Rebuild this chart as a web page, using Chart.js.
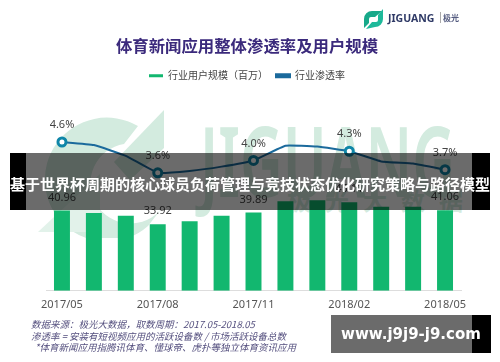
<!DOCTYPE html>
<html>
<head>
<meta charset="utf-8">
<script src="https://cdn.jsdelivr.net/npm/chart.js@4"></script>
<style>
  html, body { margin: 0; padding: 0; background: #fff; }
  #page { position: relative; width: 500px; height: 362px; overflow: hidden; font-family: "Noto Sans", "Noto Sans CJK SC", sans-serif; }
  #page div, #page svg { position: absolute; }
  canvas { position: absolute; left: 0; top: 0; }
  .wm { color: #d3ebdf; font-weight: 700; white-space: nowrap; }
  .note { left: 31px; color: #55507f; font-size: 9.5px; font-style: italic; white-space: nowrap; line-height: 12px; font-family: "Noto Sans CJK SC", sans-serif; }
  .band { background: rgba(0, 0, 0, 0.58); }
  .black { background: #000; }
  .over { color: #fff; font-weight: 700; white-space: nowrap; }
</style>
</head>
<body>
<div id="page">
  <!-- watermark behind the chart -->
  <svg style="left:38px;top:108px" width="140" height="130" viewBox="0 0 140 130">
    <path d="M 100 18 A 62 62 0 1 0 110 118 L 124 100 A 40 40 0 1 1 86 36 Z" fill="#d3ebdf"/>
    <path d="M 126 2 L 126 40 L 92 72 L 76 54 Z" fill="#d3ebdf"/>
    <path d="M 0 124 L 62 66 L 62 124 Z" fill="#e2f2ea"/>
  </svg>
  <svg style="left:190px;top:110px" width="290" height="110" viewBox="0 0 290 110">
    <text x="10" y="87" font-family="Noto Sans" font-weight="600" font-size="98" fill="#d3ebdf" textLength="255" lengthAdjust="spacingAndGlyphs">JIGUANG</text>
  </svg>
  <div class="wm" style="left:287px;top:183px;font-size:24px;line-height:34px;letter-spacing:14px;font-family:'Noto Sans CJK SC'">极光大数据</div>

  <canvas id="sportsChart" width="500" height="362"></canvas>

  <!-- logo top right -->
  <svg style="left:361px;top:8px" width="24" height="22" viewBox="0 0 24 22">
    <path d="M 3 20 L 3 11 A 8 8 0 0 1 11 3 L 21 3 L 14 9 L 10 9 A 2 2 0 0 0 8 11 L 8 15 Z" fill="#17a98a"/>
    <path d="M 22 1 L 22 11 A 8 8 0 0 1 14 19 L 5 21 L 11 14 L 15 14 A 2 2 0 0 0 17 12 L 17 7 Z" fill="#1db99a"/>
  </svg>
  <div style="left:388px;top:10px;font-size:10.5px;line-height:16px;font-weight:700;color:#2f3a66;white-space:nowrap">JIGUANG</div>
  <div style="left:440px;top:12px;width:1px;height:11px;background:#aaa"></div>
  <div style="left:443px;top:11px;font-size:8px;line-height:14px;font-weight:700;color:#555c80;white-space:nowrap;font-family:'Noto Sans CJK SC'">极光</div>

  <div class="note" style="top:318px">数据来源：极光大数据，取数周期：2017.05-2018.05</div>
  <div class="note" style="top:330px">渗透率 = 安装有短视频应用的活跃设备数 / 市场活跃设备总数</div>
  <div class="note" style="top:341px;left:35px">*体育新闻应用指腾讯体育、懂球帝、虎扑等独立体育资讯应用</div>

  <!-- banners on top of the picture -->
  <div class="black" style="left:10px;top:153px;width:16px;height:57px"></div>
  <div class="band" style="left:26px;top:153px;width:446px;height:57px"></div>
  <div class="black" style="left:472px;top:153px;width:18px;height:57px"></div>
  <div class="over" style="left:10px;top:153px;width:480px;height:57px;line-height:61px;text-align:center;font-size:15px;font-family:'Noto Sans CJK SC'">基于世界杯周期的核心球员负荷管理与竞技状态优化研究策略与路径模型</div>

  <div class="band" style="left:331px;top:315px;width:141px;height:38px"></div>
  <div class="black" style="left:472px;top:315px;width:19px;height:38px"></div>
  <div class="over" style="left:331px;top:315px;width:160px;height:38px;line-height:38px;text-align:center;font-size:15px;font-family:'DejaVu Sans'">www.j9j9-j9.com</div>
</div>

<script>
const month_labels = ['2017/05','2017/06','2017/07','2017/08','2017/09','2017/10','2017/11','2017/12','2018/01','2018/02','2018/03','2018/04','2018/05'];
const user_scale = [40.96,39.7,38.2,33.92,35.5,38.2,39.89,45.6,46.1,45.11,42.9,42.9,41.06];
const penetration = [4.6,4.5,4.15,3.6,3.66,3.8,4.0,4.48,4.45,4.3,3.97,3.9,3.7];
const chart_title = '体育新闻应用整体渗透率及用户规模';
const bar_label = '行业用户规模（百万）';
const line_label = '行业渗透率';

const label_font = '"Noto Sans", sans-serif';

// every third month carries a tick, a ring and the value labels
function is_marked(index){
  return index % 3 === 0;
}

const value_labels = {
  id: 'value_labels',
  afterDatasetsDraw(chart){
    const ctx = chart.ctx;
    ctx.save();
    ctx.font = '11px ' + label_font;
    ctx.fillStyle = '#444';
    ctx.textAlign = 'center';
    ctx.textBaseline = 'middle';
    chart.getDatasetMeta(0).data.forEach((bar, i) => {
      if (is_marked(i)) ctx.fillText(user_scale[i].toFixed(2), bar.x, bar.y - 13);
    });
    chart.getDatasetMeta(1).data.forEach((point, i) => {
      if (is_marked(i)) ctx.fillText(penetration[i].toFixed(1) + '%', point.x, point.y - 17);
    });
    ctx.restore();
  }
};

const ctx = document.getElementById('sportsChart').getContext('2d');

new Chart(ctx, {
  data: {
    labels: month_labels,
    datasets: [
      {
        type: 'bar',
        label: bar_label,
        data: user_scale,
        yAxisID: 'y',
        backgroundColor: '#12b76f',
        borderWidth: 0,
        barPercentage: 0.5,
        categoryPercentage: 1,
        order: 2
      },
      {
        type: 'line',
        label: line_label,
        data: penetration,
        yAxisID: 'y1',
        borderColor: '#1b6a9c',
        backgroundColor: '#1b6a9c',
        borderWidth: 2,
        tension: 0.1,
        pointBackgroundColor: '#fff',
        pointBorderColor: '#0f86a8',
        pointBorderWidth: 3,
        pointRadius: c => is_marked(c.dataIndex) ? 4 : 0,
        order: 1
      }
    ]
  },
  options: {
    responsive: false,
    animation: false,
    layout: { padding: { left: 0, right: 6, top: 0, bottom: 44 } },
    plugins: {
      title: {
        display: true,
        text: chart_title,
        color: '#3b2a7c',
        font: { family: '"Noto Sans CJK SC"', size: 16.4, weight: 'bold' },
        padding: { top: 36, bottom: 7 }
      },
      legend: {
        display: true,
        labels: {
          color: '#444',
          boxWidth: 14,
          boxHeight: 3,
          padding: 8,
          font: { family: '"Noto Sans CJK SC"', size: 10 },
          sort: (a, b) => a.datasetIndex - b.datasetIndex
        }
      },
      tooltip: { enabled: false }
    },
    scales: {
      x: {
        grid: { display: false, drawTicks: false },
        border: { color: '#ddd' },
        ticks: {
          autoSkip: false,
          maxRotation: 0,
          padding: 7,
          color: '#555',
          font: { family: label_font, size: 11 },
          callback: function(value, index){
            return is_marked(index) ? month_labels[index] : '';
          }
        }
      },
      // hidden axes only hold the plot away from the canvas edges
      y: {
        position: 'left', min: 0, max: 102,
        grid: { display: false }, border: { display: false }, ticks: { display: false },
        afterFit: axis => { axis.width = 46; }
      },
      y1: {
        position: 'right', min: -0.233, max: 6.267,
        grid: { display: false }, border: { display: false }, ticks: { display: false },
        afterFit: axis => { axis.width = 33; }
      }
    }
  },
  plugins: [value_labels]
});
</script>
</body>
</html>
